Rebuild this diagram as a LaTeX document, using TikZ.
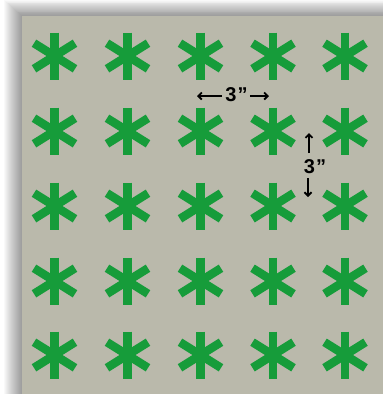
\documentclass[tikz,border=0pt]{standalone}
\usepackage{fontspec}
\setmainfont{Liberation Sans}
\usetikzlibrary{calc,arrows.meta}
\definecolor{board}{RGB}{186,185,171}
\definecolor{leaf}{RGB}{22,156,58}
\begin{document}
\begin{tikzpicture}[x=1pt,y=-1pt,
  star/.style={draw=leaf,line width=8.5pt},
  lbl/.style={font=\bfseries\fontsize{20}{20}\selectfont,inner sep=0pt},
  dimarrow/.style={-{Straight Barb[length=3.5pt,width=7pt]},line width=1.8pt,black}]
\useasboundingbox (0,0) rectangle (383,394);
\fill[white] (0,0) rectangle (383,394);
% soft shadow
\foreach \i in {1,...,18}{
  \fill[black,opacity=0.025] (22-\i,16-\i*0.9) rectangle (383,394);
}
\fill[board] (22,16) rectangle (383,394);
% asterisks
\foreach \c [count=\ci] in {54.5,127.5,200.5,273,345}{
  \foreach \r [count=\ri] in {56,131,206,281,355}{
    \coordinate (s\ci\ri) at (\c,\r);
    \draw[star] ($(s\ci\ri)+(0,-23.5)$) -- ($(s\ci\ri)+(0,23.5)$);
    \draw[star] ($(s\ci\ri)+(-20.5,-12.8)$) -- ($(s\ci\ri)+(20.5,12.8)$);
    \draw[star] ($(s\ci\ri)+(-20.5,12.8)$) -- ($(s\ci\ri)+(20.5,-12.8)$);
  }
}
% horizontal dimension
\node[lbl] (h) at (236.5,95) {3\kern1pt”};
\coordinate (hl) at (197,96);
\coordinate (hr) at (269,96);
\draw[dimarrow] ($(h.west)+(-3,1)$) -- (hl);
\draw[dimarrow] ($(h.east)+(2,1)$) -- (hr);
% vertical dimension
\node[lbl] (v) at (315,167) {3\kern1pt”};
\coordinate (vt) at (309,133);
\coordinate (vb) at (308,197);
\draw[dimarrow] (309,153) -- (vt);
\draw[dimarrow] (308,178) -- (vb);
\end{tikzpicture}
\end{document}
